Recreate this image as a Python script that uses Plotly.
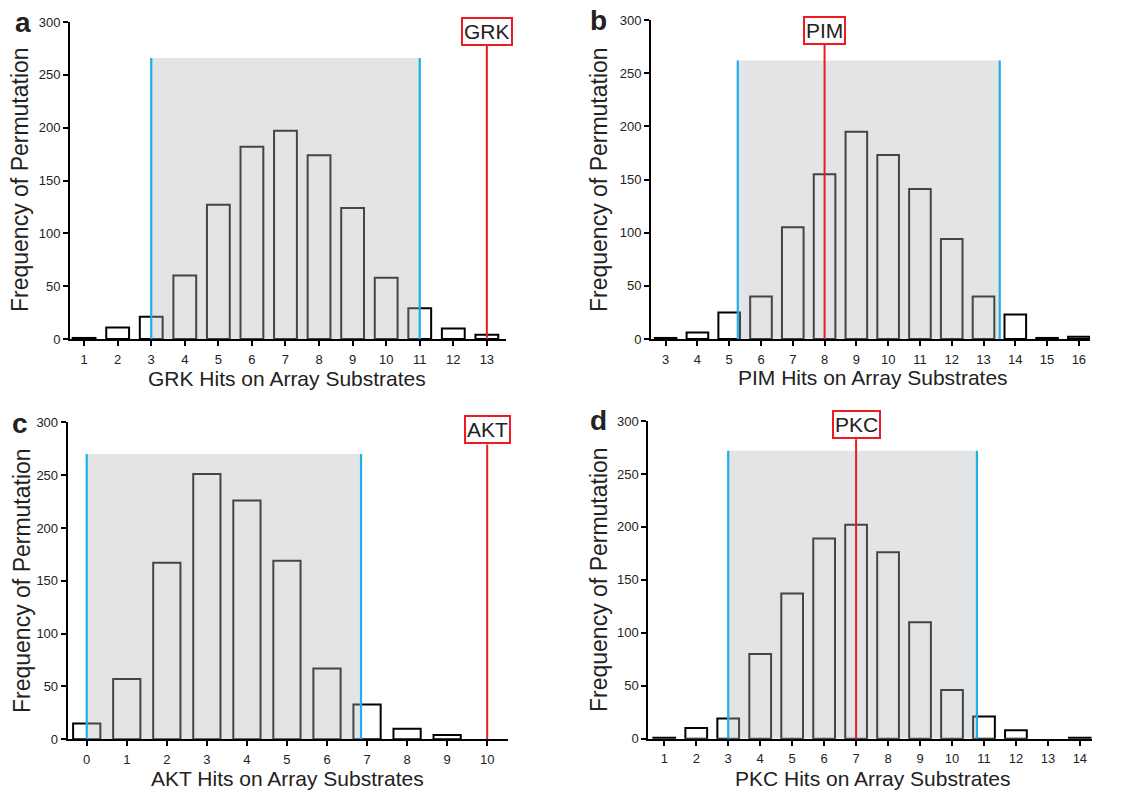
import plotly.graph_objects as go

# ---------------- data ----------------
grk_x = [1, 2, 3, 4, 5, 6, 7, 8, 9, 10, 11, 12, 13]
grk_y = [1, 11, 21, 60, 127, 182, 197, 174, 124, 58, 29, 10, 4]
grk_ci = [3, 11]
grk_obs = 13

pim_x = [3, 4, 5, 6, 7, 8, 9, 10, 11, 12, 13, 14, 15, 16]
pim_y = [1, 6, 25, 40, 105, 155, 195, 173, 141, 94, 40, 23, 1, 2]
pim_ci = [5.27, 13.51]
pim_obs = 8

akt_x = [0, 1, 2, 3, 4, 5, 6, 7, 8, 9, 10]
akt_y = [15, 57, 167, 251, 226, 169, 67, 33, 10, 4, None]
akt_ci = [0, 6.85]
akt_obs = 10

pkc_x = [1, 2, 3, 4, 5, 6, 7, 8, 9, 10, 11, 12, 13, 14]
pkc_y = [1, 10, 19, 80, 137, 189, 202, 176, 110, 46, 21, 8, None, 1]
pkc_ci = [3, 10.78]
pkc_obs = 7

shade_tops = [266, 262, 270, 272]
label_tops = [277.6, 276.5, 279, 282.7]

kinases = ["GRK", "PIM", "AKT", "PKC"]
letters = ["a", "b", "c", "d"]
ylabel = "Frequency of Permutation"
xlabel_suffix = " Hits on Array Substrates"
ytick_vals = [0, 50, 100, 150, 200, 250, 300]

# ---------------- layout geometry (pixels in the 1130x790 window) ----------------
W, H = 1130, 790
panels = [
    dict(x=grk_x, y=grk_y, ci=grk_ci, obs=grk_obs, px=(70, 506), py=(22, 339), xr=(0.58, 13.57)),
    dict(x=pim_x, y=pim_y, ci=pim_ci, obs=pim_obs, px=(651, 1090), py=(20, 339), xr=(2.54, 16.35)),
    dict(x=akt_x, y=akt_y, ci=akt_ci, obs=akt_obs, px=(67.7, 508), py=(422.3, 739.3), xr=(-0.475, 10.52)),
    dict(x=pkc_x, y=pkc_y, ci=pkc_ci, obs=pkc_obs, px=(648.3, 1091.7), py=(421, 738.7), xr=(0.5, 14.37)),
]
letter_pos = [(23, 22), (598, 20), (20, 423), (598, 421)]
ytitle_pos = [(20, 180), (599, 180), (22, 581), (599, 580)]
xtitle_pos = [(287, 378), (873, 377), (287, 778), (872, 778)]


def fx(px):
    return px / W


def fy(py):
    return 1 - py / H


RED = "#ec1c24"
BLUE = "#1cb0e8"
FONT = "Arial, Liberation Sans, Helvetica, sans-serif"

fig = go.Figure()
layout = dict(
    width=W, height=H, margin=dict(l=0, r=0, t=0, b=0, autoexpand=False),
    paper_bgcolor="white", plot_bgcolor="white", showlegend=False,
    font=dict(family=FONT, color="#222"),
)
shapes = []
annotations = []

for i, p in enumerate(panels):
    n = "" if i == 0 else str(i + 1)
    xa, ya = "x" + n, "y" + n
    fig.add_trace(go.Bar(
        x=p["x"], y=p["y"], width=0.68, xaxis=xa, yaxis=ya,
        marker=dict(color="rgba(0,0,0,0)", line=dict(color="black", width=2)),
        hoverinfo="x+y",
    ))
    layout["xaxis" + n] = dict(
        domain=[fx(p["px"][0]), fx(p["px"][1])], anchor=ya, range=list(p["xr"]),
        tickvals=p["x"], ticks="outside", ticklen=5, tickwidth=1.5, tickcolor="black",
        showline=True, linecolor="black", linewidth=2, showgrid=False, zeroline=False,
        tickfont=dict(size=13, color="#222"), automargin=False, ticklabelstandoff=2,
    )
    layout["yaxis" + n] = dict(
        domain=[fy(p["py"][1]), fy(p["py"][0])], anchor=xa, range=[0, 300],
        tickvals=ytick_vals, ticks="outside", ticklen=5, tickwidth=1.5, tickcolor="black",
        showline=True, linecolor="black", linewidth=2, showgrid=False, zeroline=False,
        tickfont=dict(size=13, color="#222"), automargin=False,
    )
    # shaded region (semi-transparent overlay above bars)
    shapes.append(dict(type="rect", xref=xa, yref=ya, x0=p["ci"][0], x1=p["ci"][1],
                       y0=0, y1=shade_tops[i], fillcolor="rgba(181,182,186,0.376)",
                       line=dict(width=0), layer="above"))
    for cx in p["ci"]:
        shapes.append(dict(type="line", xref=xa, yref=ya, x0=cx, x1=cx, y0=0, y1=shade_tops[i],
                           line=dict(color=BLUE, width=2.2), layer="above"))
    shapes.append(dict(type="line", xref=xa, yref=ya, x0=p["obs"], x1=p["obs"], y0=0,
                       y1=label_tops[i], line=dict(color=RED, width=2), layer="above"))
    annotations.append(dict(xref=xa, yref=ya, x=p["obs"], y=label_tops[i], text=kinases[i],
                            showarrow=False, xanchor="center", yanchor="bottom",
                            font=dict(size=21, color="#222", family=FONT),
                            bordercolor=RED, borderwidth=2, borderpad=1, bgcolor="white"))
    lx, ly = letter_pos[i]
    annotations.append(dict(xref="paper", yref="paper", x=fx(lx), y=fy(ly), text="<b>%s</b>" % letters[i],
                            showarrow=False, xanchor="center", yanchor="middle",
                            font=dict(size=28, color="#222", family=FONT)))
    tx, ty = ytitle_pos[i]
    annotations.append(dict(xref="paper", yref="paper", x=fx(tx), y=fy(ty), text=ylabel,
                            showarrow=False, xanchor="center", yanchor="middle", textangle=-90,
                            font=dict(size=23, color="#222", family=FONT)))
    tx, ty = xtitle_pos[i]
    annotations.append(dict(xref="paper", yref="paper", x=fx(tx), y=fy(ty), text=kinases[i] + xlabel_suffix,
                            showarrow=False, xanchor="center", yanchor="middle",
                            font=dict(size=21, color="#222", family=FONT)))

layout["shapes"] = shapes
layout["annotations"] = annotations
fig.update_layout(**layout)
# remove the default page margin so the figure fills the 1130x790 window exactly
fig.write_html("out.html", config={"displayModeBar": False},
               post_script="document.body.style.margin='0';")
